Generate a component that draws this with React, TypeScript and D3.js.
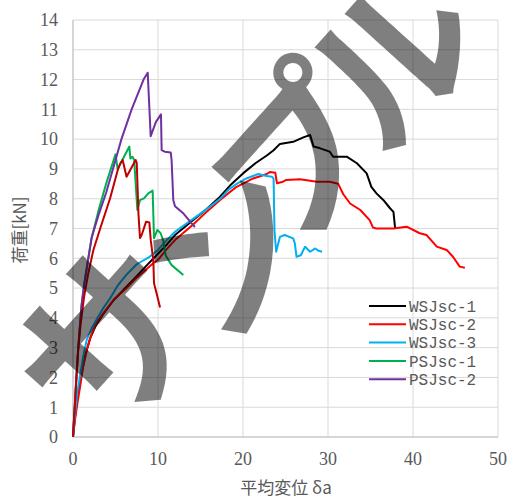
import React from "react";
import * as d3 from "d3";

const xTicks = [0, 10, 20, 30, 40, 50];
const yTicks = [0, 1, 2, 3, 4, 5, 6, 7, 8, 9, 10, 11, 12, 13, 14];

const wsjsc1: [number, number][] = [
  [0, 0], [0.2, 0.6], [0.5, 1.3], [0.9, 2.0], [1.4, 2.7], [2.0, 3.3], [2.7, 3.75], [3.6, 4.15], [4.8, 4.6],
  [6.3, 5.05], [7.5, 5.4], [8.7, 5.77], [10, 6.15], [11, 6.45], [12, 6.78], [14, 7.25], [15.5, 7.6], [17.3, 8.07],
  [18.5, 8.45], [20, 8.85], [21.5, 9.2], [22.8, 9.45], [23.6, 9.63], [24.35, 9.84], [25.9, 9.91], [27.1, 10.06],
  [27.9, 10.14], [28.3, 9.75], [29, 9.7], [30.2, 9.58], [30.6, 9.41], [32.2, 9.41], [33.4, 9.19], [34.55, 8.85],
  [35.1, 8.4], [35.7, 8.18], [36.5, 7.96], [37.3, 7.68], [37.7, 7.56], [37.9, 7.0],
];

const wsjsc2: [number, number][] = [
  [0, 0], [0.2, 0.5], [0.5, 1.1], [0.9, 1.8], [1.2, 2.36], [1.7, 3.0], [2.2, 3.48], [2.8, 3.85], [3.57, 4.15],
  [4.75, 4.6], [6.3, 5.0], [7.5, 5.35], [8.7, 5.65], [9.5, 5.85], [10, 5.95], [11, 6.3], [12, 6.61], [14, 7.1],
  [15.5, 7.5], [17.3, 7.96], [19.25, 8.4], [21.2, 8.68], [22.8, 8.83], [23.2, 8.9], [23.8, 8.87], [24.0, 8.52],
  [24.7, 8.57], [25.1, 8.63], [26.7, 8.65], [28.7, 8.57], [30.2, 8.57], [31.2, 8.5], [31.8, 8.15], [32.6, 7.84],
  [33.8, 7.62], [34.9, 7.28], [35.3, 7.03], [35.7, 7.0], [37.7, 7.0], [39.25, 7.06], [40.8, 6.84], [41.6, 6.78],
  [42.8, 6.39], [43.96, 6.28], [44.7, 6.05], [45.5, 5.72], [46.1, 5.68],
];

const wsjsc3: [number, number][] = [
  [0, 0], [0.1, 0.4], [0.25, 0.8], [0.5, 1.5], [0.8, 2.0], [1.2, 2.7], [1.6, 3.25], [2.2, 3.65], [2.8, 3.95],
  [3.5, 4.3], [4.35, 4.65], [5.3, 5.1], [6.3, 5.45], [7.5, 5.8], [9, 6.05], [10, 6.28], [11, 6.6], [12, 6.89],
  [14, 7.3], [15.5, 7.6], [17.3, 8.0], [18.3, 8.3], [19.25, 8.5], [20.4, 8.68], [21.8, 8.83], [22.8, 8.76],
  [23.4, 8.74], [23.6, 8.68], [23.7, 6.95], [23.9, 6.22], [24.35, 6.72], [24.9, 6.78], [25.9, 6.67], [26.1, 6.5],
  [26.3, 6.05], [26.8, 6.1], [27.3, 6.39], [27.9, 6.22], [28.5, 6.33], [28.9, 6.25], [29.3, 6.22],
];

const psjsc1: [number, number][] = [
  [0, 0], [0.2, 1.0], [0.4, 2.0], [0.6, 2.9], [0.8, 3.7], [1.0, 4.4], [1.3, 5.1], [1.8, 6.0], [2.2, 6.7],
  [3.0, 7.6], [4.0, 8.6], [5.0, 9.49], [5.25, 8.99], [5.8, 9.3], [6.63, 9.75], [6.75, 9.35], [7.0, 9.41],
  [7.2, 9.3], [7.57, 7.62], [7.88, 7.95], [8.35, 8.01], [8.86, 8.18], [9.37, 8.27], [9.53, 6.67], [9.92, 6.95],
  [10.3, 6.85], [10.6, 6.61], [10.9, 6.1], [11.0, 6.05], [11.6, 5.77], [12.98, 5.44],
];

const psjsc2: [number, number][] = [
  [0, 0], [0.2, 1.0], [0.4, 2.0], [0.6, 2.9], [0.8, 3.7], [1.0, 4.4], [1.3, 5.1], [1.8, 6.0], [2.2, 6.7],
  [3.0, 7.45], [3.9, 8.2], [4.7, 9.0], [5.7, 10.0], [6.9, 11.0], [8.3, 12.0], [8.79, 12.23], [9.14, 10.1],
  [9.76, 10.58], [10.35, 10.83], [10.43, 9.63], [10.8, 9.58], [11.5, 9.55], [11.6, 9.3], [11.8, 7.95],
  [12.0, 7.75], [13.0, 7.5], [13.96, 7.17], [14.35, 7.05],
];

const psjsc3: [number, number][] = [
  [0, 0], [0.3, 1.5], [0.6, 2.9], [0.9, 3.8], [1.3, 4.7], [1.8, 5.5], [2.4, 6.28], [3.2, 7.0], [4.35, 8.0],
  [5.3, 9.0], [5.6, 9.2], [5.84, 9.3], [6.3, 8.74], [7.37, 9.3], [7.5, 9.2], [7.7, 7.5], [7.88, 6.68], [8.1, 6.8],
  [8.6, 7.23], [8.98, 7.2], [9.15, 6.6], [9.45, 5.94], [9.53, 5.16], [9.84, 4.82], [10.24, 4.35],
];

const seriesNames = ["WSJsc-1", "WSJsc-2", "WSJsc-3", "PSJsc-1", "PSJsc-2"];
const seriesColors = ["#000000", "#FF0000", "#00B0F0", "#00B050", "#7030A0"];

const watermarkChars = ["サ", "ン", "プ", "ル"];

const W = 510;
const H = 499;

export default function App() {
  const x = d3.scaleLinear().domain([0, 50]).range([73, 498]);
  const y = d3.scaleLinear().domain([0, 14]).range([437, 20]);
  const line = d3
    .line<[number, number]>()
    .x((d) => x(d[0]))
    .y((d) => y(d[1]));

  const series = [
    { data: wsjsc1, color: seriesColors[0] },
    { data: wsjsc2, color: seriesColors[1] },
    { data: wsjsc3, color: seriesColors[2] },
    { data: psjsc1, color: seriesColors[3] },
    { data: psjsc2, color: seriesColors[4] },
    { data: psjsc3, color: "#C00000" },
  ];

  // watermark glyph placement (decoration)
  const wmPos = [
    { x: 112, y: 343, size: 180 },
    { x: 232, y: 254, size: 165 },
    { x: 300, y: 159, size: 165 },
    { x: 395, y: 60, size: 165 },
  ];

  const tickFont = "'Liberation Serif', 'DejaVu Serif', serif";
  const textColor = "#595959";

  return (
    <svg
      width={W}
      height={H}
      style={{ position: "absolute", left: 0, top: 0, background: "#fff" }}
    >
      <rect x={0} y={0} width={W} height={H} fill="#fff" />
      {yTicks.map((t) => (
        <line key={"gy" + t} x1={x(0)} x2={x(50)} y1={y(t)} y2={y(t)} stroke="#d9d9d9" strokeWidth={1} />
      ))}
      {xTicks.map((t) => (
        <line key={"gx" + t} x1={x(t)} x2={x(t)} y1={y(0)} y2={y(14)} stroke="#d9d9d9" strokeWidth={1} />
      ))}
      <line x1={x(0)} x2={x(50)} y1={y(0)} y2={y(0)} stroke="#bfbfbf" strokeWidth={1} />
      <line x1={x(0)} x2={x(0)} y1={y(0)} y2={y(14)} stroke="#bfbfbf" strokeWidth={1} />

      {yTicks.map((t) => (
        <text
          key={"ty" + t}
          x={58}
          y={y(t)}
          dy="0.35em"
          textAnchor="end"
          fontFamily={tickFont}
          fontSize={18}
          fill={textColor}
        >
          {t}
        </text>
      ))}
      {xTicks.map((t) => (
        <text
          key={"tx" + t}
          x={x(t)}
          y={465}
          textAnchor="middle"
          fontFamily={tickFont}
          fontSize={18}
          fill={textColor}
        >
          {t}
        </text>
      ))}

      <text
        transform="translate(26,230) rotate(-90)"
        textAnchor="middle"
        fontFamily="'Noto Sans CJK JP', sans-serif"
        fontSize={17}
        fill={textColor}
      >
        荷重[kN]
      </text>
      <text
        x={286}
        y={494}
        textAnchor="middle"
        fontFamily="'Noto Sans CJK JP', sans-serif"
        fontSize={17}
        fill={textColor}
      >
        平均変位 δa
      </text>

      {series.map((s, i) => (
        <path
          key={"s" + i}
          d={line(s.data) || ""}
          fill="none"
          stroke={s.color}
          strokeWidth={2}
          strokeLinejoin="round"
        />
      ))}

      {seriesNames.map((n, i) => (
        <g key={"lg" + i} transform={`translate(369, ${306 + i * 18.3})`}>
          <line x1={0} x2={37} y1={0} y2={0} stroke={seriesColors[i]} strokeWidth={2} />
          <text
            x={40}
            y={0}
            dy="0.35em"
            fontFamily="'Liberation Mono', monospace"
            fontSize={16}
            fill={textColor}
          >
            {n}
          </text>
        </g>
      ))}

      <g fill="#000" fillOpacity={0.5}>
        {watermarkChars.map((c, i) => (
          <text
            key={"wm" + i}
            transform={`translate(${wmPos[i].x},${wmPos[i].y}) rotate(-48)`}
            textAnchor="middle"
            dy="0.35em"
            fontFamily="'Noto Sans CJK JP', sans-serif"
            fontWeight={700}
            fontSize={wmPos[i].size}
          >
            {c}
          </text>
        ))}
      </g>
    </svg>
  );
}
